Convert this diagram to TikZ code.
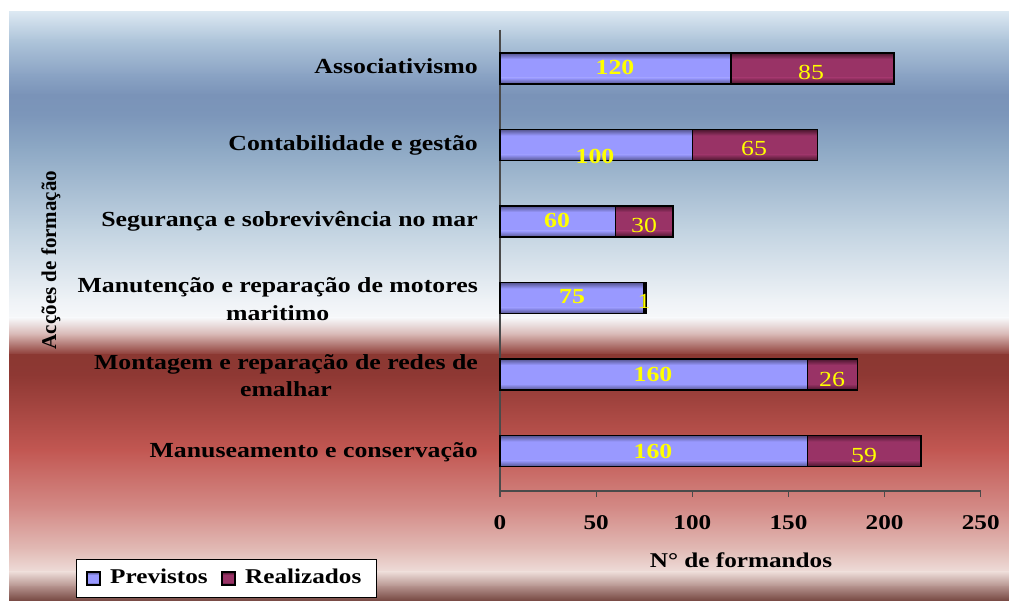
\documentclass[tikz,border=0pt]{standalone}
\usepackage{fontspec}
\setmainfont{Liberation Serif}[FakeStretch=1.2]
\newfontfamily\plainserif{Liberation Serif}
\definecolor{bgA}{HTML}{DCE8F2}
\definecolor{bgB}{HTML}{AFC5DA}
\definecolor{bgB2}{HTML}{8AA3C4}
\definecolor{bgC}{HTML}{7A93B8}
\definecolor{bgC2}{HTML}{7C96BA}
\definecolor{bgD}{HTML}{8EA9C5}
\definecolor{bgE}{HTML}{C2D3E1}
\definecolor{bgF}{HTML}{EEF2F6}
\definecolor{bgG}{HTML}{F7F8FA}
\definecolor{bgH}{HTML}{D6B4B1}
\definecolor{bgI}{HTML}{8B3832}
\definecolor{bgJ}{HTML}{8E3833}
\definecolor{bgK}{HTML}{C25752}
\definecolor{bgL}{HTML}{D48C88}
\definecolor{bgM}{HTML}{E2BBB6}
\definecolor{bgN}{HTML}{EEDDD9}
\definecolor{bgO}{HTML}{B28F8A}
\definecolor{bgP}{HTML}{74453F}
\definecolor{prevL}{HTML}{9999FF}
\definecolor{prevD}{HTML}{55558F}
\definecolor{realL}{HTML}{993366}
\definecolor{realD}{HTML}{4A162D}
\definecolor{axisgray}{HTML}{4A4A4A}
\definecolor{labyellow}{HTML}{FFFF00}
\tikzset{
  barframe/.style={draw=black, line width=1.5pt},
  catlab/.style={font=\fontsize{21.5}{27.5}\selectfont\bfseries, inner sep=0pt, align=center},
  ticklab/.style={font=\fontsize{21}{25}\selectfont\bfseries, inner sep=0pt},
  vlabp/.style={font=\fontsize{21.5}{25}\selectfont\bfseries, text=labyellow, inner sep=0pt},
  vlabr/.style={font=\fontsize{21.5}{25}\selectfont, text=labyellow, inner sep=0pt},
  axisline/.style={draw=axisgray, line width=1.2pt},
}
% shaded bar: #1 light, #2 dark, x1, x2, y-centre, half height, edge depth
\newcommand{\mybarseg}[7]{%
  \fill[#1] (#3,#5-#6) rectangle (#4,#5+#6);
  \shade[top color=#2, bottom color=#1] (#3,#5-#6) rectangle (#4,#5-#6+#7);
  \shade[top color=#1, bottom color=#2] (#3,#5+#6-#7) rectangle (#4,#5+#6);
  \draw[barframe] (#3,#5-#6) rectangle (#4,#5+#6);
}
\begin{document}
\begin{tikzpicture}[x=1pt,y=-1pt]
\useasboundingbox (0,0) rectangle (1009,601);
\fill[white] (0,0) rectangle (1009,601);
% background gradient
\foreach \ya/\yb/\ca/\cb in {12/40/bgA/bgB, 40/75/bgB/bgB2, 75/95/bgB2/bgC, 95/115/bgC/bgC2, 115/150/bgC2/bgD, 150/230/bgD/bgE, 230/300/bgE/bgF, 300/318/bgF/bgG, 318/335/bgG/bgH, 335/355/bgH/bgI, 355/375/bgI/bgJ, 375/450/bgJ/bgK, 450/510/bgK/bgL, 510/550/bgL/bgM, 550/572/bgM/bgN, 572/587/bgN/bgO, 587/601/bgO/bgP}
  \shade[top color=\ca, bottom color=\cb] (9,\ya-0.4) rectangle (1009,\yb+0.4);
% axes
\coordinate (o) at (500,491);
\coordinate (ytop) at (500,30);
\coordinate (xend) at (981,491);
\draw[axisline] (ytop) -- (o) -- (xend);
\foreach \v in {0,50,...,250} {
  \draw[axisline] ({500+1.923*\v},491) -- ({500+1.923*\v},497);
  \node[ticklab] (t\v) at ({500+1.923*\v},523) {\v};
}
\node[ticklab] (xtitle) at (741,560) {N° de formandos};
\node[font=\plainserif\fontsize{21}{25}\selectfont\bfseries, rotate=90, inner sep=0pt] (ytitle) at (51,260) {Acções de formação};
% bars
\foreach \c/\p/\r in {68.5/120/85, 145/100/65, 221.5/60/30, 298/75/1, 374.5/160/26, 451/160/59} {
  \pgfmathsetmacro{\xa}{500+1.923*\p}
  \pgfmathsetmacro{\xb}{500+1.923*(\p+\r)}
  \mybarseg{prevL}{prevD}{500}{\xa}{\c}{15.5}{6}
  \mybarseg{realL}{realD}{\xa}{\xb}{\c}{15.5}{6}
}
% category labels
\node[catlab, anchor=base east] (c1) at (478,74) {Associativismo};
\node[catlab, anchor=base east] (c2) at (478,150.5) {Contabilidade e gestão};
\node[catlab, anchor=base east] (c3) at (478,227) {Segurança e sobrevivência no mar};
\node[catlab, anchor=east] (c4) at (478,299) {Manutenção e reparação de motores\\maritimo};
\node[catlab, anchor=east] (c5) at (478,375.5) {Montagem e reparação de redes de\\emalhar};
\node[catlab, anchor=base east] (c6) at (478,457) {Manuseamento e conservação};
% value labels
\node[vlabp] (p1) at (615,67) {120};
\node[vlabr] (r1) at (811,72) {85};
\node[vlabp] (p2) at (595,156) {100};
\node[vlabr] (r2) at (754,148) {65};
\node[vlabp] (p3) at (557,220) {60};
\node[vlabr] (r3) at (644,225) {30};
\node[vlabp] (p4) at (572,297) {75};
\node[vlabr] (r4) at (644,301.5) {1};
\node[vlabp] (p5) at (653,374) {160};
\node[vlabr] (r5) at (832,379) {26};
\node[vlabp] (p6) at (653,451) {160};
\node[vlabr] (r6) at (864,455) {59};
% legend
\draw[black, line width=1pt, fill=white] (76,559) rectangle (376,597);
\mybarseg{prevL}{prevD}{87}{100}{578.5}{6.5}{3}
\node[ticklab, anchor=base west] (lp) at (110,583.5) {Previstos};
\mybarseg{realL}{realD}{222}{235}{578.5}{6.5}{3}
\node[ticklab, anchor=base west] (lr) at (245,583.5) {Realizados};
\end{tikzpicture}
\end{document}
